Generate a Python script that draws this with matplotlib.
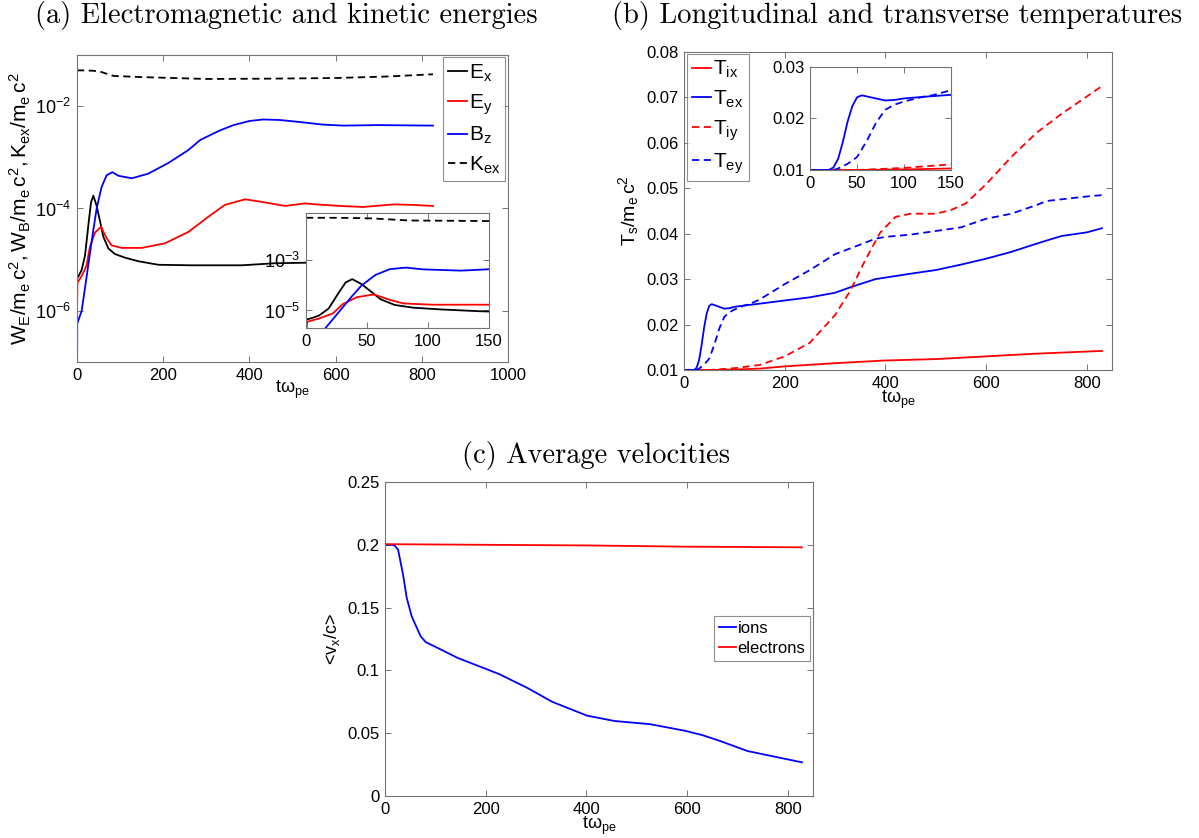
import numpy as np
import matplotlib
matplotlib.use('Agg')
import matplotlib.pyplot as plt
from matplotlib.ticker import FixedLocator, FormatStrFormatter, LogFormatterSciNotation, NullLocator

plt.rcParams['font.family'] = ['Liberation Sans', 'DejaVu Sans']
plt.rcParams['mathtext.fontset'] = 'custom'
plt.rcParams['mathtext.rm'] = 'Liberation Sans'
plt.rcParams['mathtext.it'] = 'Liberation Sans:italic'
plt.rcParams['mathtext.default'] = 'regular'
plt.rcParams['axes.unicode_minus'] = False

# (a) energies (values as log10)
ex_t = [0, 5, 10.8, 18.6, 26.3, 32.5, 37.9, 45.6, 53.4, 61, 72.7, 88, 111, 142, 189, 266,
        382, 459, 529, 650, 830]
ex_log = [-5.37, -5.3, -5.2, -4.92, -4.33, -3.88, -3.75, -3.95, -4.25, -4.55, -4.78, -4.89,
          -4.96, -5.03, -5.1, -5.11, -5.11, -5.07, -5.06, -5.03, -5.0]
ey_t = [0, 1, 10.8, 22, 30, 41.7, 55.7, 68.8, 80, 103.6, 150, 204, 258, 305, 343, 390, 428,
        483, 529, 556, 610, 664, 734, 780, 826]
ey_log = [-6.0, -5.45, -5.32, -5.12, -4.75, -4.47, -4.36, -4.58, -4.72, -4.77, -4.77, -4.68,
          -4.46, -4.16, -3.93, -3.82, -3.87, -3.95, -3.90, -3.92, -3.95, -3.97, -3.92, -3.93, -3.95]
bz_t = [0, 0.5, 10.8, 18.6, 30, 37.9, 45.6, 57, 68.8, 82, 96, 127, 165, 212, 258, 286, 330,
        363, 400, 432, 470, 517, 570, 618, 700, 826]
bz_log = [-8, -6.25, -6.0, -5.55, -4.88, -4.42, -4.0, -3.58, -3.35, -3.29, -3.36, -3.41,
          -3.32, -3.11, -2.86, -2.66, -2.48, -2.37, -2.29, -2.26, -2.27, -2.31, -2.36, -2.38,
          -2.37, -2.38]
kex_t = [0, 20, 40, 55, 65, 85, 150, 300, 450, 600, 720, 826]
kex = [0.050, 0.050, 0.049, 0.047, 0.044, 0.039, 0.037, 0.034, 0.0345, 0.0355, 0.038, 0.042]

# (b) temperatures
tix_t = [0, 50, 100, 150, 200, 300, 400, 500, 600, 700, 830]
tix = [0.0100, 0.0100, 0.0101, 0.0103, 0.0108, 0.0115, 0.0121, 0.0124, 0.0130, 0.0136, 0.0142]
tex_t = [0, 20, 25, 30, 35, 40, 45, 50, 55, 60, 70, 80, 90, 100, 120, 150, 200, 250, 300,
         330, 380, 450, 500, 550, 600, 650, 700, 720, 750, 800, 830]
tex = [0.0100, 0.0100, 0.0105, 0.0122, 0.0155, 0.0194, 0.0224, 0.0241, 0.0245, 0.0243,
       0.0239, 0.0235, 0.0236, 0.0239, 0.0242, 0.0246, 0.0253, 0.0260, 0.0270, 0.0282,
       0.0300, 0.0312, 0.0320, 0.0332, 0.0345, 0.0360, 0.0378, 0.0385, 0.0395, 0.0403, 0.0412]
tiy_t = [0, 50, 100, 150, 200, 250, 300, 330, 360, 390, 420, 450, 500, 530, 560, 600, 650,
         700, 750, 800, 830]
tiy = [0.0100, 0.0100, 0.0104, 0.0111, 0.0130, 0.0160, 0.0221, 0.0274, 0.0342, 0.0403,
       0.0437, 0.0444, 0.0444, 0.0452, 0.0467, 0.0509, 0.0569, 0.0622, 0.0664, 0.0702, 0.0725]
tey_t = [0, 25, 30, 40, 50, 60, 70, 80, 90, 100, 120, 130, 150, 200, 250, 300, 350, 380,
         400, 450, 500, 550, 600, 650, 700, 720, 800, 830]
tey = [0.0100, 0.0100, 0.0103, 0.0112, 0.0125, 0.0155, 0.0191, 0.0217, 0.0227, 0.0233,
       0.0242, 0.0245, 0.0255, 0.0289, 0.0320, 0.0355, 0.0376, 0.0389, 0.0393, 0.0398,
       0.0406, 0.0414, 0.0433, 0.0444, 0.0463, 0.0472, 0.0482, 0.0485]

# (c) average velocities
ion_t = [0, 15, 20, 26, 36, 43, 53, 71, 81, 109, 144, 199, 227, 283, 332, 401, 456, 526,
         595, 630, 664, 720, 769, 828]
ion = [0.200, 0.200, 0.199, 0.196, 0.176, 0.158, 0.143, 0.127, 0.1225, 0.117, 0.110, 0.1014,
       0.097, 0.086, 0.075, 0.064, 0.0597, 0.0572, 0.052, 0.0485, 0.044, 0.0358, 0.0317, 0.0268]
ele_t = [0, 200, 400, 600, 828]
ele = [0.2005, 0.200, 0.1995, 0.1985, 0.198]

W, H = 1199, 838
fig = plt.figure(figsize=(W / 100, H / 100), dpi=100)


def box(x0, y0, x1, y1):
    # pixel box -> figure fraction
    return [x0 / W, 1 - y1 / H, (x1 - x0) / W, (y1 - y0) / H]


def matlab_style(ax, size=12):
    for s in ax.spines.values():
        s.set_color('0.45')
        s.set_linewidth(0.8)
    ax.tick_params(direction='in', top=True, right=True, length=4, width=0.7,
                   color='0.45', labelsize=size, labelcolor='black', pad=4)
    ax.tick_params(which='minor', length=0)


def small_legend(ax, **kw):
    leg = ax.legend(fancybox=False, edgecolor='0.45', borderaxespad=0,
                    handletextpad=0.1, **kw)
    leg.get_frame().set_linewidth(0.8)
    return leg


LW = 1.3
DASH = (0, (4, 2.5))
xlab = r'$t\omega_{pe}$'

# ---- (a)
ax = fig.add_axes(box(77, 55, 508, 362))
ex = 10 ** np.array(ex_log)
ey = 10 ** np.array(ey_log)
bz = 10 ** np.array(bz_log)
ax.plot(ex_t, ex, color='black', lw=LW, label=r'$E_x$')
ax.plot(ey_t, ey, color='red', lw=LW, label=r'$E_y$')
ax.plot(bz_t, bz, color='blue', lw=LW, label=r'$B_z$')
ax.plot(kex_t, kex, color='black', lw=LW, ls=DASH, label=r'$K_{ex}$')
ax.set_yscale('log')
ax.set_xlim(0, 1000)
ax.set_ylim(1e-7, 1e-1)
ax.yaxis.set_major_locator(FixedLocator([1e-6, 1e-4, 1e-2]))
ax.yaxis.set_minor_locator(NullLocator())
ax.yaxis.set_major_formatter(LogFormatterSciNotation())
ax.set_xticks([0, 200, 400, 600, 800, 1000])
matlab_style(ax)
ax.tick_params(axis='y', labelsize=13)
ax.set_xlabel(xlab, fontsize=13, labelpad=-3)
ax.set_ylabel(r'$W_E/m_e\,c^2, W_B/m_e\,c^2, K_{ex}/m_e\,c^2$', fontsize=15, labelpad=2)
small_legend(ax, loc='upper right', bbox_to_anchor=(0.994, 0.992), fontsize=15,
             handlelength=0.9, borderpad=0.25, labelspacing=0.4)

axi = fig.add_axes(box(306, 213, 489, 328))
axi.plot(ex_t, ex, color='black', lw=LW)
axi.plot(ey_t, ey, color='red', lw=LW)
axi.plot(bz_t, bz, color='blue', lw=LW)
axi.plot(kex_t, kex, color='black', lw=LW, ls=DASH)
axi.set_yscale('log')
axi.set_xlim(0, 150)
axi.set_ylim(10 ** -5.7, 10 ** -1.11)
axi.yaxis.set_major_locator(FixedLocator([1e-5, 1e-3]))
axi.yaxis.set_minor_locator(NullLocator())
axi.yaxis.set_major_formatter(LogFormatterSciNotation())
axi.set_xticks([0, 50, 100, 150])
matlab_style(axi)
axi.tick_params(axis='y', labelsize=13)

# ---- (b)
bx = fig.add_axes(box(684, 52, 1112, 370))


def temps(a):
    a.plot(tix_t, tix, color='red', lw=LW, label=r'$T_{ix}$')
    a.plot(tex_t, tex, color='blue', lw=LW, label=r'$T_{ex}$')
    a.plot(tiy_t, tiy, color='red', lw=LW, ls=DASH, label=r'$T_{iy}$')
    a.plot(tey_t, tey, color='blue', lw=LW, ls=DASH, label=r'$T_{ey}$')


temps(bx)
bx.set_xlim(0, 850)
bx.set_ylim(0.01, 0.08)
bx.set_xticks([0, 200, 400, 600, 800])
bx.set_yticks([0.01, 0.02, 0.03, 0.04, 0.05, 0.06, 0.07, 0.08])
bx.yaxis.set_major_formatter(FormatStrFormatter('%g'))
matlab_style(bx)
bx.set_xlabel(xlab, fontsize=13, labelpad=-1)
bx.set_ylabel(r'$T_s/m_e\,c^2$', fontsize=14, labelpad=4)
small_legend(bx, loc='upper left', bbox_to_anchor=(0.007, 0.994), fontsize=15,
             handlelength=0.9, borderpad=0.25, labelspacing=0.4)

bxi = fig.add_axes(box(810, 67, 951, 170))
temps(bxi)
bxi.set_xlim(0, 150)
bxi.set_ylim(0.01, 0.03)
bxi.set_xticks([0, 50, 100, 150])
bxi.set_yticks([0.01, 0.02, 0.03])
bxi.yaxis.set_major_formatter(FormatStrFormatter('%g'))
matlab_style(bxi)

# ---- (c)
cx = fig.add_axes(box(385, 482, 813, 796))
cx.plot(ion_t, ion, color='blue', lw=LW, label='ions')
cx.plot(ele_t, ele, color='red', lw=LW, label='electrons')
cx.set_xlim(0, 850)
cx.set_ylim(0, 0.25)
cx.set_xticks([0, 200, 400, 600, 800])
cx.set_yticks([0, 0.05, 0.1, 0.15, 0.2, 0.25])
cx.yaxis.set_major_formatter(FormatStrFormatter('%g'))
matlab_style(cx)
cx.set_xlabel(xlab, fontsize=13, labelpad=-1)
cx.set_ylabel(r'<$v_x$/c>', fontsize=13, labelpad=4)
small_legend(cx, loc='upper right', bbox_to_anchor=(0.994, 0.573), fontsize=12,
             handlelength=1.0, borderpad=0.3, labelspacing=0.3)

# panel titles (LaTeX-like serif)
tkw = dict(family='cmr10', fontsize=20.5, ha='center', va='center')
fig.text(286 / W, 1 - 16 / H, '(a) Electromagnetic and kinetic energies', **tkw)
fig.text(897 / W, 1 - 16 / H, '(b) Longitudinal and transverse temperatures', **tkw)
fig.text(596 / W, 1 - 455 / H, '(c) Average velocities', **tkw)

fig.savefig('out.png', dpi=100)
